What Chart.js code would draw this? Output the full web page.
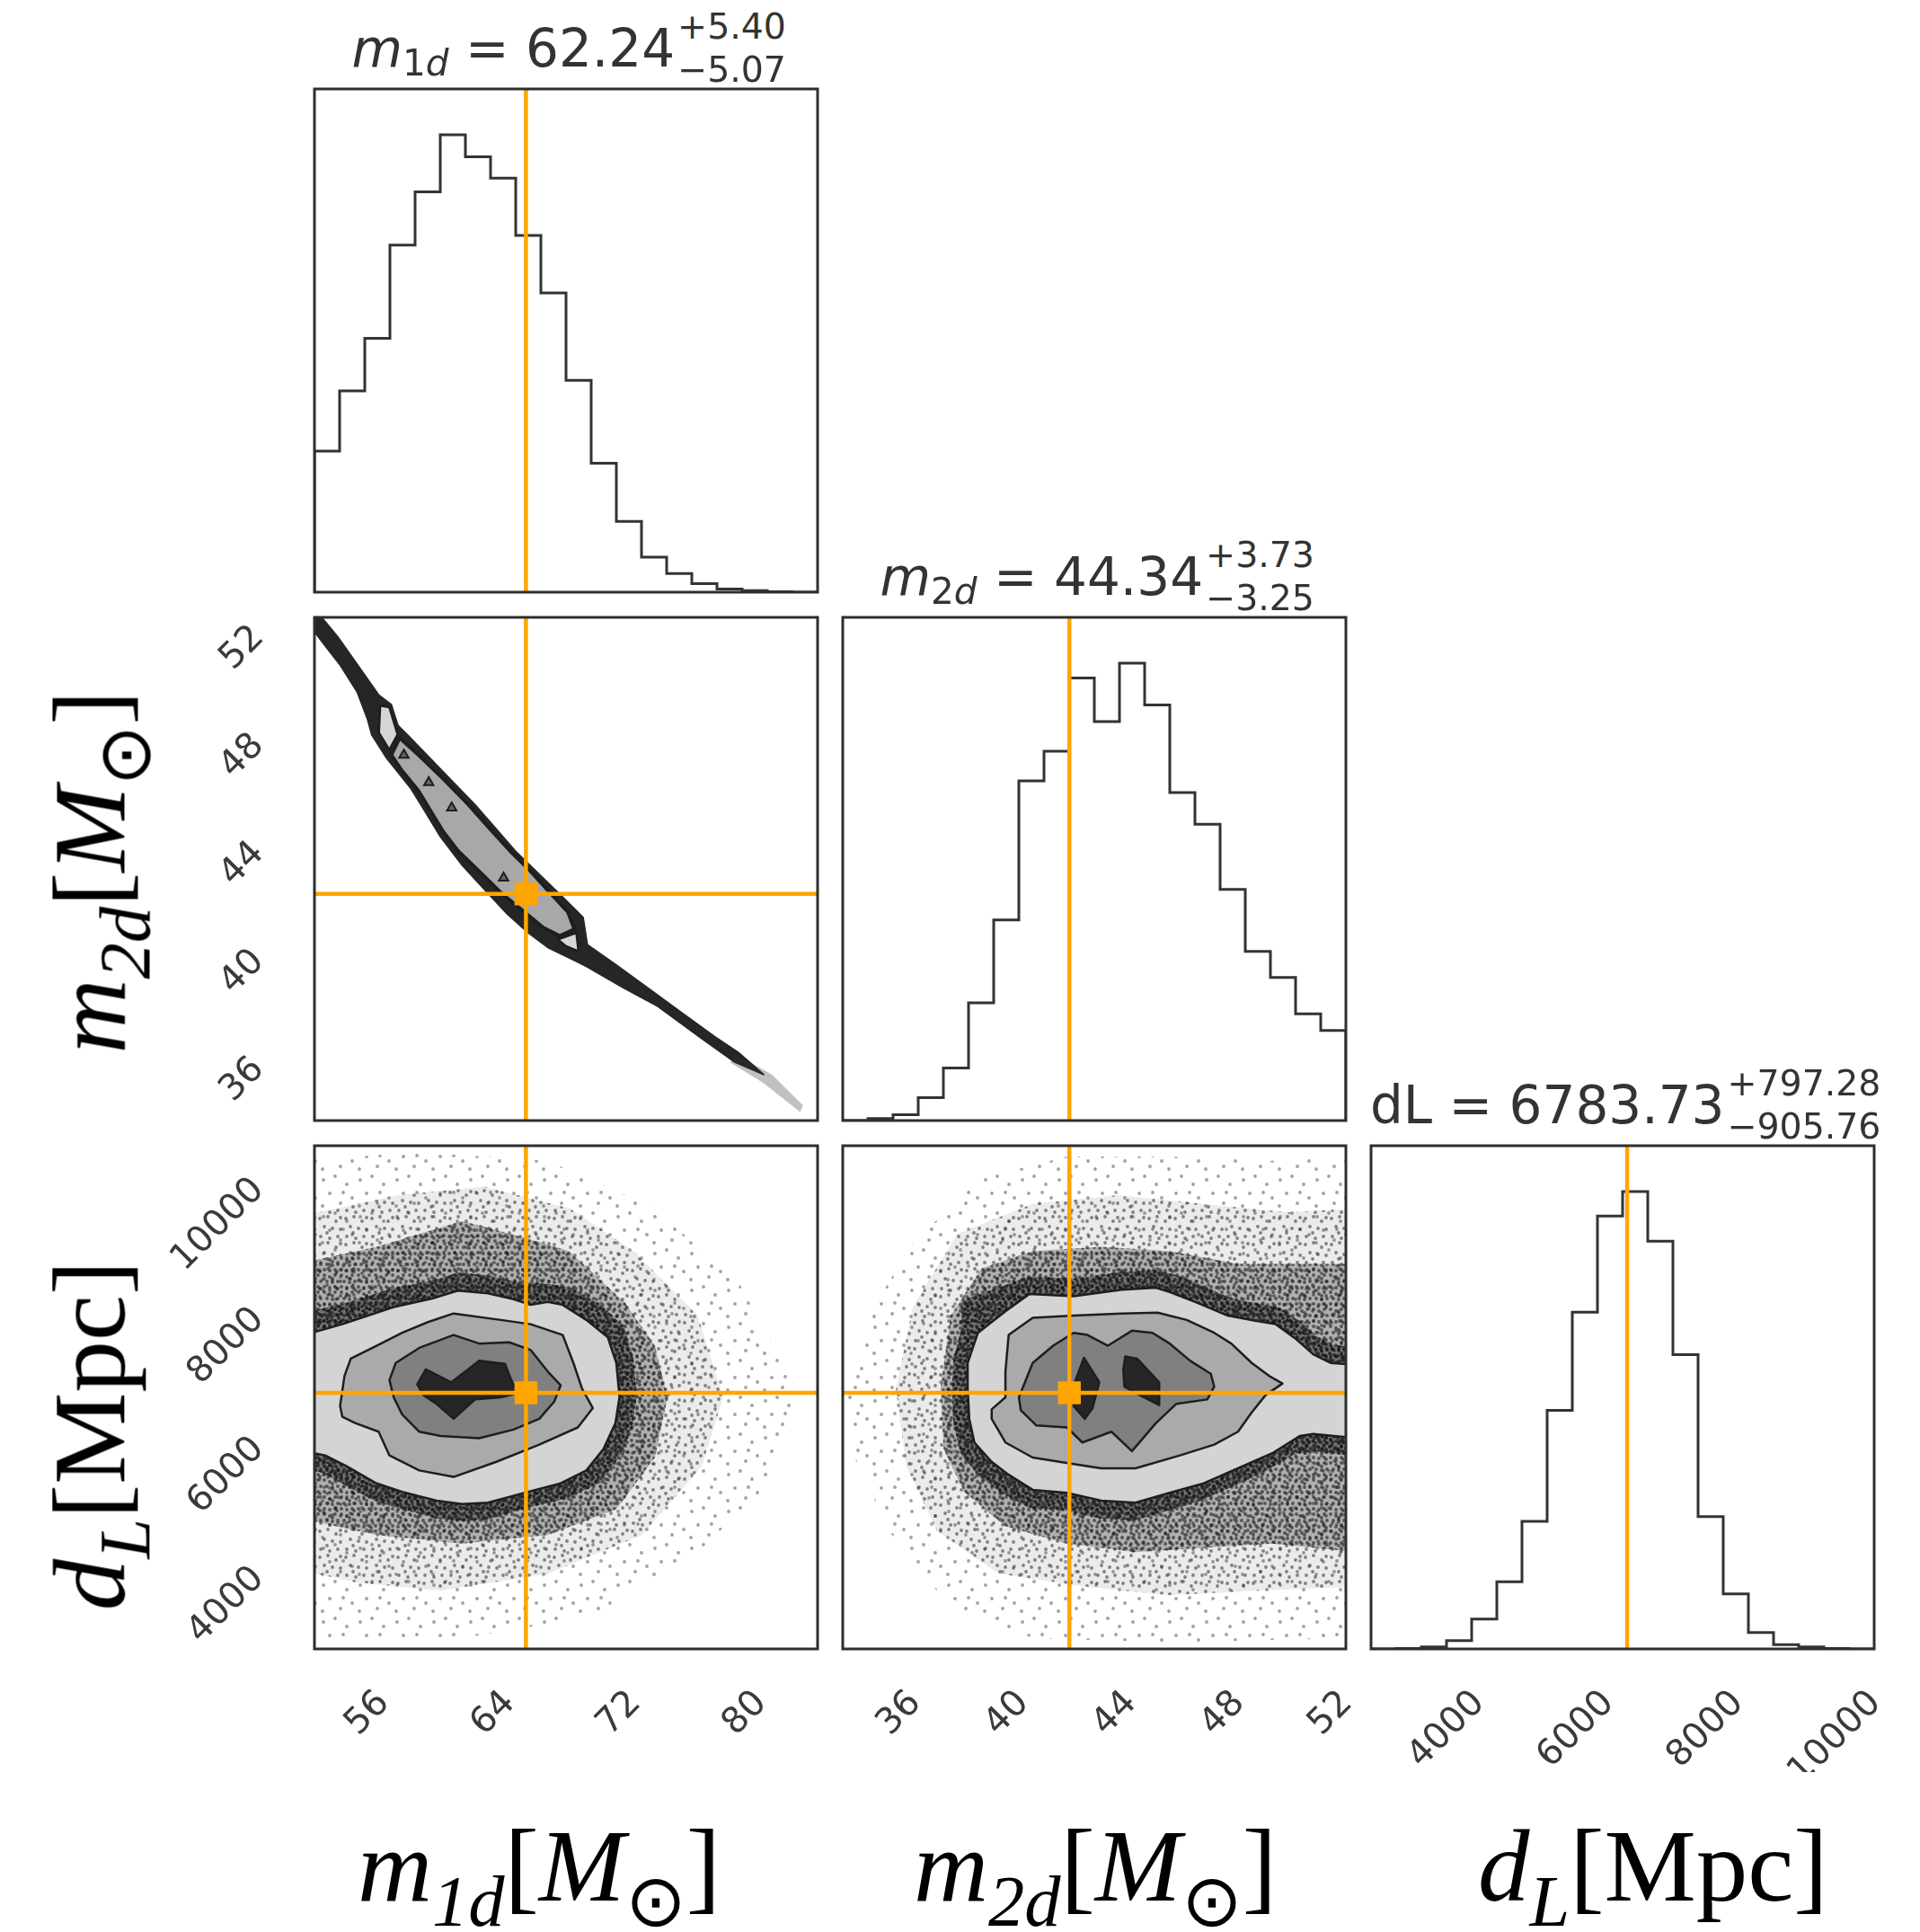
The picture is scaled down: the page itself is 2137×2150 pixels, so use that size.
<!DOCTYPE html>
<html>
<head>
<meta charset="utf-8">
<title>Posterior corner plot</title>
<script src="https://cdn.jsdelivr.net/npm/chart.js@4.4.0/dist/chart.umd.min.js"></script>
<style>
  html, body { margin: 0; padding: 0; background: #fff; }
  #page { position: relative; width: 2137px; height: 2150px; overflow: hidden; }
  #page canvas { position: absolute; }
  .ttl { position: absolute; white-space: nowrap; font-family: 'DejaVu Sans'; font-size: 58px; line-height: 1; color: #333; }
  .ttl .it { font-style: italic; }
  .ttl .sb { font-size: 0.7em; position: relative; top: 0.25em; }
  .pm { display: inline-grid; font-size: 0.68em; line-height: 1; margin-left: 3px; }
  .pm span { grid-area: 1 / 1; position: relative; }
  .pm .up { top: -0.78em; }
  .pm .dn { top: 0.42em; }
  .lab { position: absolute; white-space: nowrap; font-family: 'Liberation Serif'; font-size: 115px; line-height: 1; color: #000; }
  .lab .sb { font-size: 0.7em; position: relative; top: 0.35em; }
</style>
</head>
<body>
<div id="page"></div>
<script>
// axis limits per parameter (m1d, m2d, dL)
const m1dRange = [52.6, 84.6];
const m2dRange = [33.9, 52.55];
const dLRange = [2830, 10600];

const m1dTicks = [56, 64, 72, 80];
const m2dTicks = [36, 40, 44, 48, 52];
const dLTicks = [4000, 6000, 8000, 10000];

// injected values (orange lines)
const truthValues = [66.05, 42.3, 6785];

// title numbers: median, +err, -err
const medians = ['62.24', '44.34', '6783.73'];
const errPlus = ['5.40', '3.73', '797.28'];
const errMinus = ['5.07', '3.25', '905.76'];

// 1D histograms, 20 bins each
const m1dCounts = [363, 518, 653, 893, 1030, 1177, 1120, 1065, 918, 770, 545, 332, 182, 90, 48, 22, 8, 4, 1, 0];
const m2dCounts = [0, 5, 15, 58, 133, 298, 508, 860, 935, 1120, 1010, 1158, 1052, 830, 750, 585, 428, 362, 270, 228];
const dLCounts = [0, 1, 4, 17, 62, 139, 264, 494, 697, 896, 947, 844, 609, 274, 114, 34, 9, 4, 1, 0];

// m1d vs m2d: narrow banana-shaped posterior
const m1dM2dBand = [[52.0, 52.9], [52.95, 52.62], [54.08, 51.82], [55.32, 50.8], [56.7, 49.66], [57.48, 49.32], [57.9, 48.55], [58.6, 48.14], [59.65, 47.51], [61.22, 46.56], [62.8, 45.61], [64.12, 44.73], [65.45, 43.84], [67.02, 42.95], [68.36, 42.19], [69.68, 41.43], [69.95, 40.42], [71.8, 39.66], [73.9, 38.77], [75.97, 37.89], [78.06, 37.0], [79.6, 36.4], [81.16, 35.61], [79.3, 36.08], [77.1, 37.0], [74.45, 38.13], [72.2, 38.84], [69.95, 39.6], [69.1, 39.85], [67.5, 40.3], [66.2, 40.86], [64.88, 41.55], [63.55, 42.38], [61.95, 43.4], [60.62, 44.42], [59.56, 45.43], [58.75, 46.2], [57.16, 47.36], [56.25, 48.2], [55.98, 48.77], [55.32, 49.79], [54.22, 50.8], [53.2, 51.56], [52.1, 52.4]];
const m1dM2dFade = [[79.31, 36.39], [81.69, 35.61], [83.67, 34.47], [83.49, 34.22], [81.16, 35.29], [79.05, 36.05]];
const m1dM2dInner = [[58.02, 48.08], [59.21, 47.45], [60.8, 46.56], [62.39, 45.61], [63.84, 44.66], [65.03, 43.9], [66.35, 43.14], [67.41, 42.45], [68.73, 41.62], [69.13, 40.99], [68.2, 40.74], [67.15, 41.05], [65.82, 41.69], [64.5, 42.32], [63.18, 43.08], [61.72, 43.9], [60.8, 44.6], [60.0, 45.36], [59.21, 46.12], [58.15, 46.88], [57.49, 47.45]];
const m1dM2dLightTop = [[56.78, 49.28], [57.36, 49.22], [57.89, 48.21], [57.36, 47.64], [56.7, 48.27]];
const m1dM2dLightBottom = [[68.07, 40.61], [69.26, 40.86], [69.39, 40.17], [68.6, 40.36]];
const m1dM2dSpecks = [[58.29, 47.45], [59.87, 46.43], [61.33, 45.49], [64.63, 42.89]];

// m1d vs dL: point cloud halos and contour levels
const m1dDLHaloC = [[51.5, 10368], [59.27, 10500], [67.44, 10368], [74.25, 9637], [79.69, 8442], [83.23, 6848], [81.6, 5387], [76.97, 4324], [70.16, 3328], [61.99, 2996], [53.83, 2996], [51.5, 2996]];
const m1dDLHaloB = [[51.5, 9504], [57.91, 9836], [63.36, 9969], [68.8, 9637], [72.89, 8973], [76.97, 7977], [78.6, 6715], [77.24, 5652], [73.43, 4590], [67.44, 3992], [60.63, 3727], [55.19, 3859], [51.5, 4059]];
const m1dDLHaloA = [[51.5, 8774], [56.55, 9039], [61.99, 9438], [66.08, 9172], [68.8, 8973], [72.34, 8176], [74.25, 7512], [75.06, 6715], [74.25, 5785], [71.8, 4988], [67.44, 4590], [61.99, 4457], [56.55, 4590], [51.5, 4856]];
const m1dDLHaloCore = [[51.5, 8000], [54.3, 8150], [57.6, 8400], [60.1, 8520], [61.7, 8640], [63.6, 8600], [65.3, 8500], [67.4, 8470], [69.0, 8400], [70.8, 8150], [72.3, 7800], [72.9, 7300], [73.1, 6715], [72.8, 6250], [72.0, 5800], [70.8, 5400], [68.6, 5150], [66.3, 5020], [63.6, 4830], [62.0, 4800], [60.3, 4850], [58.1, 4990], [56.4, 5120], [54.4, 5380], [53.0, 5560], [51.5, 5600]];
const m1dDLLevel1 = [[51.5, 7724], [52.6, 7724], [54.37, 7844], [57.64, 8110], [60.09, 8242], [61.72, 8362], [63.63, 8322], [65.26, 8229], [66.35, 8143], [67.44, 8189], [68.39, 8143], [69.89, 7910], [71.25, 7645], [71.8, 7246], [72.0, 6715], [71.74, 6317], [70.98, 5918], [69.89, 5586], [68.26, 5387], [66.35, 5267], [63.63, 5088], [61.99, 5068], [60.36, 5121], [58.18, 5254], [56.55, 5387], [54.64, 5652], [53.28, 5818], [52.6, 5852], [51.5, 5852]];
const m1dDLLevel2 = [[54.23, 6582], [54.51, 7047], [54.91, 7313], [56.55, 7512], [58.18, 7711], [59.82, 7877], [61.45, 8010], [64.45, 7910], [66.35, 7844], [68.39, 7678], [69.07, 7246], [69.62, 6848], [70.3, 6549], [69.35, 6250], [66.9, 5985], [64.17, 5719], [61.45, 5486], [59.27, 5586], [57.37, 5818], [56.68, 6184], [55.19, 6317], [54.37, 6416]];
const m1dDLLevel3 = [[57.37, 6981], [57.77, 7246], [59.27, 7479], [61.45, 7678], [63.08, 7545], [64.99, 7565], [66.35, 7446], [67.44, 7113], [68.26, 6901], [67.85, 6649], [66.9, 6383], [65.26, 6217], [63.08, 6084], [60.63, 6117], [59.27, 6184], [58.18, 6449], [57.64, 6715]];
const m1dDLLevel4 = [[59.14, 6914], [59.68, 7147], [61.31, 6947], [63.08, 7279], [64.72, 7233], [65.12, 6981], [65.53, 6781], [64.45, 6715], [62.81, 6682], [61.45, 6383], [60.36, 6615], [59.54, 6748]];

// m2d vs dL
const m2dDLHaloC = [[34.09, 6715], [34.85, 7977], [36.5, 9106], [39.04, 10102], [42.21, 10434], [46.02, 10434], [49.82, 10368], [53.0, 10434], [53.0, 2996], [46.02, 2930], [40.94, 2996], [37.77, 3527], [35.61, 4656], [34.34, 5785]];
const m2dDLHaloB = [[35.87, 6848], [36.5, 8110], [38.15, 9239], [40.94, 9703], [44.11, 9836], [47.28, 9703], [50.46, 9571], [53.0, 9637], [53.0, 3793], [49.19, 3727], [46.02, 3660], [42.84, 3793], [39.67, 3992], [37.39, 4656], [36.25, 5652]];
const m2dDLHaloA = [[37.52, 6848], [37.9, 7977], [39.04, 8707], [40.94, 8973], [43.48, 9039], [46.02, 8973], [48.55, 8774], [51.09, 8774], [53.0, 8774], [53.0, 4324], [49.82, 4457], [47.28, 4391], [44.75, 4324], [42.21, 4457], [39.93, 4723], [38.4, 5254], [37.64, 5918]];
const m2dDLHaloCore = [[38.3, 8200], [39.6, 8400], [40.8, 8580], [42.5, 8550], [44.2, 8650], [45.5, 8680], [46.3, 8600], [47.3, 8430], [48.3, 8240], [49.3, 8160], [50.1, 8100], [50.9, 7870], [51.5, 7650], [52.1, 7520], [53.0, 7490], [53.0, 5800], [51.5, 5880], [50.7, 5850], [49.6, 5580], [48.4, 5350], [47.1, 5110], [46.0, 4970], [44.7, 4810], [43.4, 4850], [42.1, 4970], [40.8, 5010], [39.7, 5260], [39.0, 5480], [38.3, 5820], [38.0, 6300], [37.95, 6848], [38.0, 7300], [38.3, 7780]];
const m2dDLLevel1 = [[39.93, 8043], [40.81, 8309], [42.46, 8276], [44.24, 8375], [45.51, 8408], [46.02, 8342], [47.03, 8176], [48.17, 7977], [49.19, 7897], [49.95, 7844], [50.71, 7612], [51.34, 7379], [51.98, 7246], [53.0, 7213], [53.0, 6084], [51.34, 6151], [50.84, 6117], [49.82, 5852], [48.55, 5619], [47.28, 5387], [46.02, 5241], [44.75, 5088], [43.48, 5121], [42.21, 5241], [40.94, 5287], [40.05, 5520], [39.42, 5719], [38.78, 6018], [38.59, 6383], [38.53, 6848], [38.53, 7246], [38.91, 7711]];
const m2dDLLevel2 = [[40.05, 7678], [40.94, 7944], [42.46, 7977], [44.24, 8010], [45.57, 8023], [46.65, 7910], [47.67, 7711], [48.3, 7545], [49.06, 7246], [49.7, 7047], [50.2, 6928], [49.57, 6748], [49.06, 6483], [48.55, 6184], [47.67, 5985], [46.4, 5818], [44.75, 5619], [43.48, 5619], [42.46, 5686], [40.94, 5785], [39.93, 6018], [39.42, 6383], [39.42, 6529], [39.93, 6715], [39.93, 7113]];
const m2dDLLevel3 = [[40.43, 6715], [40.94, 7246], [41.7, 7512], [42.46, 7711], [42.97, 7678], [43.73, 7512], [44.62, 7744], [45.38, 7711], [46.02, 7545], [46.78, 7279], [47.54, 7080], [47.67, 6881], [47.41, 6682], [46.27, 6615], [45.51, 6317], [44.62, 5885], [43.86, 6184], [42.78, 6018], [42.21, 6250], [41.07, 6283], [40.5, 6516]];
const m2dDLLevel4a = [[42.84, 7326], [43.41, 6947], [43.16, 6549], [42.87, 6383], [42.46, 6582], [42.53, 6981]];
const m2dDLLevel4b = [[44.37, 7346], [44.81, 7313], [45.63, 6947], [45.63, 6595], [45.06, 6715], [44.34, 6881], [44.3, 7147]];

// ---- styling ----
const ORANGE = '#ffa500';
const SIZE = 560;
const colLeft = [350, 938, 1526];
const rowTop = [99, 687, 1275];
const ranges = [m1dRange, m2dRange, dLRange];

// stipple tiles for the scattered samples outside the contours
function dotTile(size, dots, r, alpha) {
  const c = document.createElement('canvas');
  c.width = c.height = size;
  const g = c.getContext('2d');
  g.fillStyle = 'rgba(20,20,20,' + alpha + ')';
  dots.forEach(([x, y]) => { g.beginPath(); g.arc(x, y, r, 0, Math.PI * 2); g.fill(); });
  return c;
}
const tiles = {
  sparse: dotTile(41, [[5, 7], [18, 3], [31, 12], [37, 27], [12, 22], [24, 33], [4, 36], [27, 21]], 1.9, 0.4),
  medium: dotTile(29, [[3, 4], [12, 2], [21, 7], [26, 16], [8, 13], [17, 15], [4, 24], [14, 26], [23, 24], [26, 3], [11, 20]], 1.9, 0.5),
  dense: dotTile(19, [[2, 2], [8, 4], [14, 2], [17, 9], [11, 10], [5, 9], [2, 15], [8, 16], [14, 15], [16, 17], [11, 6]], 1.9, 0.6),
  core: dotTile(13, [[3, 3], [9, 2], [6, 7], [11, 9], [2, 10], [7, 12]], 2, 0.7)
};

const polyStyles = {
  haloC: { tile: 'sparse' },
  haloB: { base: 'rgba(0,0,0,0.08)', tile: 'medium' },
  haloA: { base: 'rgba(0,0,0,0.25)', tile: 'dense' },
  haloCore: { base: 'rgba(0,0,0,0.35)', tile: 'core' },
  lev1: { fill: '#d4d4d4', stroke: '#1e1e1e', width: 2.5 },
  lev2: { fill: '#aaaaaa', stroke: '#1e1e1e', width: 2.5 },
  lev3: { fill: '#808080', stroke: '#1e1e1e', width: 2.5 },
  lev4: { fill: '#262626', stroke: '#1e1e1e', width: 2.5 },
  band: { fill: '#262626', stroke: '#262626', width: 2 },
  fade: { fill: 'rgba(50,50,50,0.3)' },
  inner: { fill: '#a8a8a8', stroke: '#1e1e1e', width: 4 },
  light: { fill: '#d6d6d6', stroke: '#1e1e1e', width: 2.5 }
};

// filled polygons traced through the element positions set by the scales
const polygonPlugin = {
  id: 'polygons',
  beforeDatasetDraw(chart, args) {
    const st = polyStyles[chart.data.datasets[args.index].poly];
    if (!st) return;
    const ctx = chart.ctx, a = chart.chartArea, pts = args.meta.data;
    ctx.save();
    ctx.beginPath();
    ctx.rect(a.left, a.top, a.width, a.height);
    ctx.clip();
    ctx.beginPath();
    pts.forEach((p, k) => k ? ctx.lineTo(p.x, p.y) : ctx.moveTo(p.x, p.y));
    ctx.closePath();
    if (st.base) { ctx.fillStyle = st.base; ctx.fill(); }
    if (st.tile) { ctx.fillStyle = ctx.createPattern(tiles[st.tile], 'repeat'); ctx.fill(); }
    if (st.fill) { ctx.fillStyle = st.fill; ctx.fill(); }
    if (st.stroke) {
      ctx.lineJoin = 'round';
      ctx.lineWidth = st.width;
      ctx.strokeStyle = st.stroke;
      ctx.stroke();
    }
    ctx.restore();
  }
};

// box frame plus 45 degree tick labels
const cornerTicks = {
  id: 'cornerTicks',
  afterDraw(chart, args, opts) {
    const ctx = chart.ctx, a = chart.chartArea;
    ctx.save();
    ctx.strokeStyle = '#2e2e2e';
    ctx.lineWidth = 3;
    ctx.strokeRect(a.left, a.top, a.width, a.height);
    ctx.font = '40px "DejaVu Sans"';
    ctx.fillStyle = '#3a3a3a';
    (opts.x || []).forEach(v => {
      const s = String(v);
      const px = chart.scales.x.getPixelForValue(v);
      const half = (ctx.measureText(s).width + 29) * Math.SQRT1_2 / 2;
      ctx.save();
      ctx.translate(px, a.bottom + 44 + half);
      ctx.rotate(-Math.PI / 4);
      ctx.textAlign = 'center';
      ctx.textBaseline = 'middle';
      ctx.fillText(s, 0, 0);
      ctx.restore();
    });
    (opts.y || []).forEach(v => {
      const py = chart.scales.y.getPixelForValue(v);
      ctx.save();
      ctx.translate(a.left - 62, py);
      ctx.rotate(-Math.PI / 4);
      ctx.textAlign = 'right';
      ctx.textBaseline = 'middle';
      ctx.fillText(String(v), 0, 0);
      ctx.restore();
    });
    ctx.restore();
  }
};

Chart.register(polygonPlugin, cornerTicks);

const page = document.getElementById('page');

function makePanel(col, row, pad, xr, yr, datasets, ticks) {
  const c = document.createElement('canvas');
  c.width = SIZE + pad[0] + pad[2];
  c.height = SIZE + pad[1] + pad[3];
  c.style.left = (colLeft[col] - pad[0]) + 'px';
  c.style.top = (rowTop[row] - pad[1]) + 'px';
  c.style.width = c.width + 'px';
  c.style.height = c.height + 'px';
  page.appendChild(c);
  // first listed dataset is painted first
  datasets.forEach((d, i) => { d.order = -i; });
  return new Chart(c, {
    type: 'scatter',
    data: { datasets },
    options: {
      responsive: false,
      animation: false,
      devicePixelRatio: 1,
      events: [],
      layout: { padding: { left: pad[0], top: pad[1], right: pad[2], bottom: pad[3] }, autoPadding: false },
      scales: {
        x: { type: 'linear', min: xr[0], max: xr[1], display: false },
        y: { type: 'linear', min: yr[0], max: yr[1], display: false }
      },
      plugins: { legend: { display: false }, tooltip: { enabled: false }, cornerTicks: ticks || {} }
    }
  });
}

function histPanel(i, counts, pad, ticks) {
  const r = ranges[i];
  const top = Math.max(...counts) * 1.1;
  const w = (r[1] - r[0]) / counts.length;
  const steps = [{ x: r[0], y: 0 }]
    .concat(counts.map((c, k) => ({ x: r[0] + k * w, y: c })))
    .concat([{ x: r[1], y: 0 }]);
  makePanel(i, i, pad, r, [0, top], [
    { data: steps, showLine: true, stepped: 'before', borderColor: '#333', borderWidth: 3, pointRadius: 0 },
    { data: [{ x: truthValues[i], y: 0 }, { x: truthValues[i], y: top }], showLine: true, borderColor: ORANGE, borderWidth: 4.5, pointRadius: 0 }
  ], ticks);
}

function pairPanel(col, row, layers, extra, pad, ticks) {
  const xr = ranges[col], yr = ranges[row];
  const tx = truthValues[col], ty = truthValues[row];
  const ds = layers.map(([pts, style]) => ({ data: pts.map(p => ({ x: p[0], y: p[1] })), poly: style, pointRadius: 0 }));
  extra.forEach(d => ds.push(d));
  ds.push({ data: [{ x: tx, y: yr[0] }, { x: tx, y: yr[1] }], showLine: true, borderColor: ORANGE, borderWidth: 4.5, pointRadius: 0 });
  ds.push({ data: [{ x: xr[0], y: ty }, { x: xr[1], y: ty }], showLine: true, borderColor: ORANGE, borderWidth: 4.5, pointRadius: 0 });
  ds.push({ data: [{ x: tx, y: ty }], pointStyle: 'rect', pointRadius: 18, backgroundColor: ORANGE, borderWidth: 0 });
  makePanel(col, row, pad, xr, yr, ds, ticks);
}

// diagonal
histPanel(0, m1dCounts, [10, 10, 10, 10]);
histPanel(1, m2dCounts, [10, 10, 10, 10]);
histPanel(2, dLCounts, [10, 10, 50, 137], { x: dLTicks });

// m2d vs m1d
pairPanel(0, 1, [
  [m1dM2dBand, 'band'],
  [m1dM2dFade, 'fade'],
  [m1dM2dInner, 'inner'],
  [m1dM2dLightTop, 'light'],
  [m1dM2dLightBottom, 'light']
], [
  { data: m1dM2dSpecks.map(p => ({ x: p[0], y: p[1] })), pointStyle: 'triangle', pointRadius: 6, backgroundColor: '#666', borderColor: '#1e1e1e', borderWidth: 2 }
], [200, 10, 10, 10], { y: m2dTicks });

// dL vs m1d
pairPanel(0, 2, [
  [m1dDLHaloC, 'haloC'], [m1dDLHaloB, 'haloB'], [m1dDLHaloA, 'haloA'], [m1dDLHaloCore, 'haloCore'],
  [m1dDLLevel1, 'lev1'], [m1dDLLevel2, 'lev2'], [m1dDLLevel3, 'lev3'], [m1dDLLevel4, 'lev4']
], [], [200, 10, 10, 160], { x: m1dTicks, y: dLTicks });

// dL vs m2d
pairPanel(1, 2, [
  [m2dDLHaloC, 'haloC'], [m2dDLHaloB, 'haloB'], [m2dDLHaloA, 'haloA'], [m2dDLHaloCore, 'haloCore'],
  [m2dDLLevel1, 'lev1'], [m2dDLLevel2, 'lev2'], [m2dDLLevel3, 'lev3'],
  [m2dDLLevel4a, 'lev4'], [m2dDLLevel4b, 'lev4']
], [], [10, 10, 10, 160], { x: m2dTicks });

// ---- text: titles and axis labels ----
function addText(cls, html, cx, top, cy) {
  const el = document.createElement('div');
  el.className = cls;
  el.innerHTML = html;
  page.appendChild(el);
  const w = el.offsetWidth, h = el.offsetHeight;
  el.style.left = (cx - w / 2) + 'px';
  if (cy === undefined) {
    el.style.top = top + 'px';
  } else {
    el.style.top = (cy - h / 2) + 'px';
    el.style.transform = 'rotate(-90deg)';
  }
}

const titleNames = [
  '<span class="it">m</span><span class="sb">1<span class="it">d</span></span>',
  '<span class="it">m</span><span class="sb">2<span class="it">d</span></span>',
  'dL'
];
titleNames.forEach((name, i) => {
  const html = name + ' = ' + medians[i] +
    '<span class="pm"><span class="up">+' + errPlus[i] + '</span><span class="dn">\u2212' + errMinus[i] + '</span></span>';
  addText('ttl', html, colLeft[i] + SIZE / 2 + 3, rowTop[i] - 25 - 49);
});

const axisLabels = [
  '<i>m</i><span class="sb"><i>1d</i></span>[<i>M</i><span class="sb">\u2299</span>]',
  '<i>m</i><span class="sb"><i>2d</i></span>[<i>M</i><span class="sb">\u2299</span>]',
  '<i>d</i><span class="sb"><i>L</i></span>[Mpc]'
];
const bottomCenters = [600, 1219, 1840];
axisLabels.forEach((html, i) => addText('lab', html, bottomCenters[i], 2019));
addText('lab', axisLabels[1], 100, 0, 970);
addText('lab', axisLabels[2], 100, 0, 1597);
</script>
</body>
</html>
